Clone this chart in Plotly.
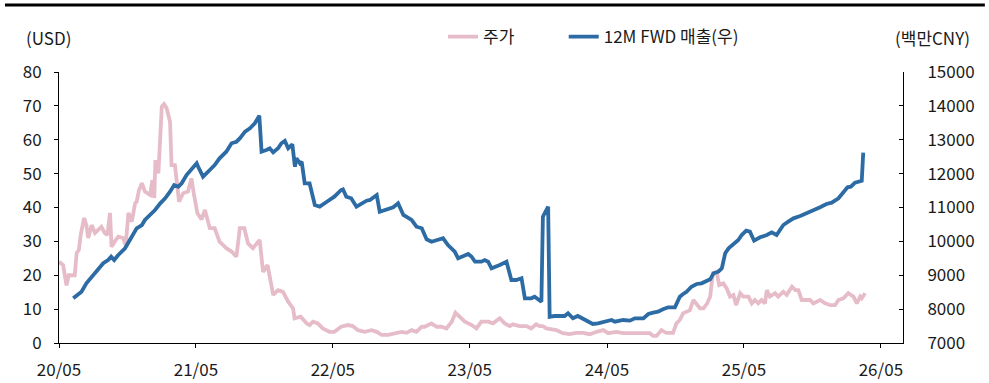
import plotly.graph_objects as go

# ---- data ----
price_dates = [
    "2020-05-01","2020-05-12","2020-05-21","2020-05-27","2020-06-12","2020-06-17","2020-06-23","2020-06-28",
    "2020-07-07","2020-07-13","2020-07-18","2020-07-27","2020-08-05","2020-08-13","2020-08-22","2020-08-31",
    "2020-09-07","2020-09-14","2020-09-18","2020-09-27","2020-10-06","2020-10-19","2020-10-26","2020-11-02",
    "2020-11-11","2020-11-20","2020-11-24","2020-11-30","2020-12-08","2020-12-16","2020-12-30","2021-01-05",
    "2021-01-10","2021-01-13","2021-01-21","2021-01-30","2021-02-05","2021-02-12","2021-02-21","2021-02-25",
    "2021-03-06","2021-03-17","2021-03-28","2021-04-10","2021-04-19","2021-04-26","2021-05-05","2021-05-16",
    "2021-05-25","2021-06-07","2021-06-20","2021-07-03","2021-07-21","2021-08-04","2021-08-17","2021-08-26",
    "2021-09-07","2021-09-17","2021-09-30","2021-10-14","2021-10-18","2021-10-27","2021-11-08","2021-11-23",
    "2021-12-06","2021-12-19","2022-01-02","2022-01-15","2022-01-19","2022-02-04","2022-02-20","2022-02-28",
    "2022-03-09","2022-03-22","2022-04-04","2022-04-22","2022-05-05","2022-05-23","2022-06-10","2022-06-23",
    "2022-07-07","2022-07-25","2022-08-12","2022-08-26","2022-09-08","2022-09-26","2022-10-13","2022-10-31",
    "2022-11-14","2022-11-27","2022-12-10","2022-12-24","2023-01-01","2023-01-19","2023-02-02","2023-02-15",
    "2023-02-28","2023-03-14","2023-03-24","2023-04-05","2023-04-18","2023-05-06","2023-05-19","2023-06-01",
    "2023-06-10","2023-06-19","2023-07-02","2023-07-20","2023-08-02","2023-08-16","2023-08-24","2023-09-11",
    "2023-09-29","2023-10-12","2023-10-25","2023-11-03","2023-11-12","2023-11-21","2023-12-18","2024-01-04",
    "2024-01-22","2024-02-09","2024-02-27","2024-03-16","2024-04-03","2024-04-21","2024-05-04","2024-05-26",
    "2024-06-13","2024-06-22","2024-07-28","2024-08-23","2024-09-01","2024-09-10","2024-09-23","2024-10-06",
    "2024-10-24","2024-11-02","2024-11-11","2024-11-20","2024-11-29","2024-12-08","2024-12-17","2024-12-26",
    "2025-01-04","2025-01-13","2025-01-23","2025-01-31","2025-02-07","2025-02-17","2025-02-24","2025-03-07",
    "2025-03-16","2025-03-25","2025-04-03","2025-04-10","2025-04-21","2025-04-29","2025-05-13","2025-05-22",
    "2025-05-30","2025-06-08","2025-06-17","2025-06-26","2025-07-01","2025-07-09","2025-07-23","2025-07-31",
    "2025-08-14","2025-08-23","2025-09-06","2025-09-15","2025-09-23","2025-10-02","2025-10-24","2025-11-02",
    "2025-11-20","2025-12-03","2025-12-17","2025-12-30","2026-01-08","2026-01-21","2026-02-03","2026-02-17",
    "2026-02-26","2026-03-07","2026-03-11","2026-03-20",
]
price_usd = [
    24, 23, 17, 20, 20, 26.5, 27.5, 32,
    36.9, 34.8, 31, 34.8, 32.5, 33.5, 34.3, 32.5,
    31.9, 38.4, 28.4, 30, 31.4, 31, 28.9, 38.4,
    35.8, 41.3, 41.7, 45, 47.2, 44.7, 43.7, 48.1,
    42.8, 54, 50.1, 69.8, 70.5, 69.3, 65.3, 52.5,
    52.5, 41.7, 44.2, 44.7, 48.6, 43.7, 38.3, 36.5,
    39.3, 33.9, 33.9, 29.9, 28, 27, 25.5, 33.9,
    33.9, 29.4, 28, 29.9, 30.4, 21, 23, 14.2,
    15.6, 15.1, 12.2, 10.2, 7.3, 7.8, 5.8, 5.3,
    6.3, 5.8, 4.3, 3.3, 3.3, 4.8, 5.3, 5.0,
    3.8, 3.3, 3.8, 3.3, 2.4, 2.4, 2.9, 3.3,
    3.0, 3.8, 3.3, 4.8, 4.8, 5.8, 4.8, 4.8,
    4.3, 6.3, 8.9, 7.8, 6.3, 5.3, 4.3, 6.3,
    6.3, 6.3, 5.8, 7.3, 5.8, 5.0, 5.5, 5.0,
    5.0, 4.3, 5.5, 5.0, 5.0, 4.3, 3.8, 2.9,
    2.6, 3.0, 3.0, 2.6, 3.3, 3.8, 2.9, 3.3,
    2.9, 2.9, 2.9, 2.9, 2.1, 2.1, 3.8, 3.0,
    3.0, 5.8, 6.8, 8.8, 9.2, 9.7, 12.7, 11.2,
    10.2, 10.2, 11.7, 13.7, 20.6, 21, 17.1, 17.6,
    16.1, 13.7, 14.2, 11.2, 14.7, 13.7, 13.7, 11.7,
    12.7, 11.7, 12.7, 11.7, 15.6, 13.7, 14.7, 13.7,
    15.1, 14.2, 16.6, 15.6, 15.6, 12.7, 12.7, 11.7,
    12.7, 11.7, 11.2, 11.2, 12.7, 13.2, 14.7, 13.7,
    11.7, 13.7, 13.2, 14.7,
]

sales_dates = [
    "2020-06-08","2020-06-30","2020-07-13","2020-07-27","2020-08-13","2020-08-27","2020-09-09","2020-09-17",
    "2020-09-25","2020-10-06","2020-10-24","2020-10-31","2020-11-11","2020-11-24","2020-12-08","2020-12-16",
    "2020-12-30","2021-01-12","2021-01-26","2021-02-08","2021-02-21","2021-03-04","2021-03-15","2021-03-24",
    "2021-04-06","2021-04-19","2021-05-03","2021-05-07","2021-05-20","2021-06-07","2021-06-20","2021-07-03",
    "2021-07-21","2021-08-04","2021-08-17","2021-08-26","2021-09-09","2021-09-22","2021-10-05","2021-10-17",
    "2021-10-23","2021-11-05","2021-11-14","2021-11-23","2021-12-06","2021-12-15","2021-12-24","2022-01-02",
    "2022-01-13","2022-01-20","2022-01-24","2022-02-02","2022-02-07","2022-02-15","2022-02-28","2022-03-14",
    "2022-03-27","2022-04-18","2022-05-05","2022-05-23","2022-05-28","2022-06-06","2022-06-19","2022-07-03",
    "2022-07-30","2022-08-08","2022-08-26","2022-09-03","2022-09-17","2022-10-09","2022-10-22","2022-11-05",
    "2022-11-27","2022-12-10","2022-12-24","2023-01-06","2023-01-19","2023-02-06","2023-02-19","2023-03-04",
    "2023-03-22","2023-03-31","2023-04-14","2023-04-27","2023-05-06","2023-05-15","2023-06-01","2023-06-10",
    "2023-06-19","2023-06-28","2023-07-20","2023-08-07","2023-08-20","2023-09-02","2023-09-16","2023-09-25",
    "2023-10-12","2023-10-21","2023-11-08","2023-11-12","2023-11-26","2023-11-30","2023-12-13","2024-01-09",
    "2024-01-18","2024-01-31","2024-02-13","2024-03-02","2024-03-24","2024-04-07","2024-04-25","2024-05-13",
    "2024-05-22","2024-06-13","2024-07-01","2024-07-14","2024-08-06","2024-08-19","2024-09-01","2024-09-14",
    "2024-09-27","2024-10-11","2024-10-29","2024-11-11","2024-11-20","2024-11-29","2024-12-12","2024-12-26",
    "2025-01-08","2025-01-22","2025-01-31","2025-02-09","2025-02-22","2025-03-03","2025-03-12","2025-03-21",
    "2025-04-03","2025-04-16","2025-04-25","2025-05-07","2025-05-17","2025-05-28","2025-06-13","2025-07-01",
    "2025-07-14","2025-07-27","2025-08-05","2025-08-14","2025-08-27","2025-09-10","2025-09-28","2025-10-15",
    "2025-11-02","2025-11-20","2025-12-07","2025-12-21","2026-01-08","2026-01-21","2026-02-01","2026-02-10",
    "2026-02-21","2026-03-11","2026-03-15",
]
sales_cny_mn = [
    8320, 8514, 8762, 8957, 9155, 9353, 9450, 9548,
    9450, 9598, 9795, 9943, 10138, 10386, 10483, 10631,
    10779, 10926, 11124, 11272, 11466, 11664, 11614, 11714,
    11959, 12107, 12305, 12204, 11910, 12107, 12254, 12452,
    12647, 12895, 12942, 13041, 13238, 13338, 13485, 13710,
    12647, 12697, 12747, 12628, 12747, 12895, 12964, 12747,
    12866, 12204, 12452, 12305, 12352, 11714, 11714, 11074,
    11025, 11192, 11320, 11516, 11537, 11319, 11272, 11024,
    11201, 11222, 11369, 10876, 10926, 11006, 11124, 10779,
    10631, 10433, 10386, 10061, 9990, 10041, 10091, 9893,
    9695, 9500, 9568, 9627, 9548, 9400, 9400, 9450,
    9400, 9205, 9303, 9400, 8860, 8860, 8910, 8320,
    8320, 8367, 8219, 10728, 11024, 7776, 7797, 7797,
    7877, 7729, 7797, 7700, 7561, 7582, 7629, 7679,
    7629, 7679, 7659, 7729, 7729, 7856, 7895, 7925,
    7994, 8054, 8054, 8367, 8446, 8514, 8662, 8742,
    8762, 8840, 8880, 9058, 9105, 9205, 9648, 9795,
    9923, 10041, 10188, 10315, 10286, 10020, 10120, 10188,
    10267, 10188, 10336, 10483, 10581, 10680, 10749, 10828,
    10926, 11006, 11104, 11143, 11272, 11437, 11596, 11614,
    11732, 11791, 12618,
]

x_tick_vals = ["2020-05-01","2021-05-01","2022-05-01","2023-05-01","2024-05-01","2025-05-01","2026-05-01"]
x_tick_text = ["20/05","21/05","22/05","23/05","24/05","25/05","26/05"]

PINK = "#E6BCC9"
BLUE = "#2D6BA5"
FONT = "Noto Sans CJK KR"
TXT = "#1a1a1a"
FS = 17

fig = go.Figure()
fig.add_trace(go.Scatter(x=price_dates, y=price_usd, name="주가", mode="lines",
                         line=dict(color=PINK, width=3.8), yaxis="y", legend="legend"))
fig.add_trace(go.Scatter(x=sales_dates, y=sales_cny_mn, name="12M FWD 매출(우)", mode="lines",
                         line=dict(color=BLUE, width=3.8), yaxis="y2", legend="legend2"))

axis_common = dict(showgrid=False, zeroline=False, showline=True, linecolor="#000", linewidth=1,
                   tickcolor="#000", ticklen=4, tickwidth=1, automargin=False,
                   tickfont=dict(family=FONT, size=FS, color=TXT))

legend_common = dict(orientation="h", xanchor="left", y=0.903, yanchor="middle",
                     yref="container", font=dict(family=FONT, size=FS, color=TXT),
                     bgcolor="rgba(0,0,0,0)", borderwidth=0)

fig.update_layout(
    width=989, height=383,
    margin=dict(l=59, r=86, t=72, b=40, autoexpand=False),
    paper_bgcolor="white", plot_bgcolor="white",
    font=dict(family=FONT, size=FS, color=TXT),
    showlegend=True,
    legend=dict(x=0.455, **legend_common),
    legend2=dict(x=0.598, **legend_common),
    xaxis=dict(type="date", range=["2020-05-01", "2026-06-29"], tickmode="array",
               tickvals=x_tick_vals, ticktext=x_tick_text, ticks="outside",
               ticklabelstandoff=8, **axis_common),
    yaxis=dict(range=[0, 80], dtick=10, tick0=0, ticks="outside", ticklabelstandoff=9,
               **axis_common),
    yaxis2=dict(range=[7000, 15000], dtick=1000, tick0=7000, overlaying="y", side="right",
                ticks="inside", ticklabelstandoff=20, anchor="x", tickformat="d",
                **axis_common),
)

fig.add_annotation(text="(USD)", xref="paper", yref="paper", x=-0.0415, y=1.129,
                   xanchor="left", yanchor="middle", showarrow=False,
                   font=dict(family=FONT, size=FS, color=TXT))
fig.add_annotation(text="(백만CNY)", xref="paper", yref="paper", x=1.082, y=1.129,
                   xanchor="right", yanchor="middle", showarrow=False,
                   font=dict(family=FONT, size=FS, color=TXT))

fig.add_shape(type="line", xref="paper", yref="paper", x0=-0.064, x1=1.097,
              y0=1.247, y1=1.247, line=dict(color="#000", width=3))

fig.write_html("out.html", config={"displayModeBar": False},
               post_script="document.body.style.margin='0';document.body.style.overflow='hidden';")
